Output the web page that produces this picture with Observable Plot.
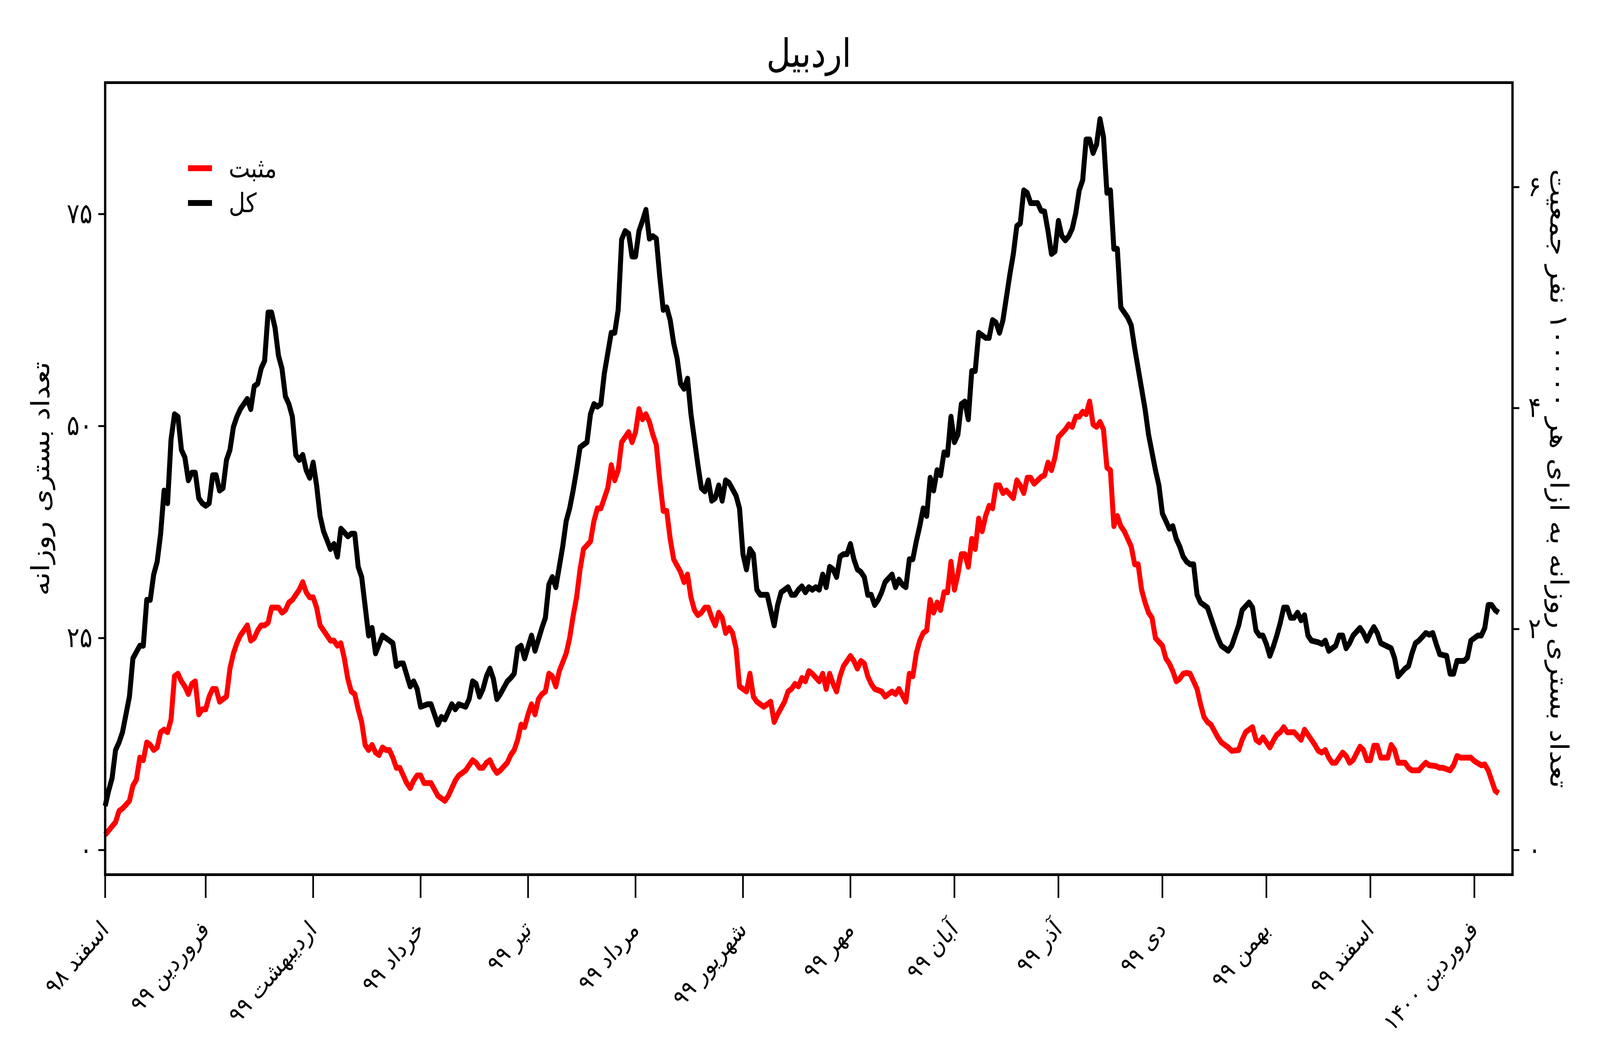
<!DOCTYPE html>
<html>
<head>
<meta charset="utf-8">
<script src="https://cdn.jsdelivr.net/npm/d3@7"></script>
<script src="https://cdn.jsdelivr.net/npm/@observablehq/plot@0.6"></script>
<style>
  html, body { margin: 0; padding: 0; background: #fff; width: 100%; height: 100%; overflow: hidden; }
  #wrap { position: absolute; left: 0; top: 0; width: 4800px; height: 2700px; overflow: hidden; transform-origin: 0 0; font-family: "DejaVu Sans", sans-serif; background: #fff; }
  #wrap svg { display: block; }
  #legend { position: absolute; left: 564px; top: 386px; font-family: "DejaVu Sans", sans-serif; font-size: 68px; color: #000; }
  #legend .row { display: flex; align-items: center; height: 89px; }
  #legend .sw { width: 72px; height: 15px; margin-right: 50px; }
</style>
</head>
<body>
<div id="wrap"></div>
<script>
// ---------- texts ----------
const cityName = "اردبیل";
const seriesNames = ["مثبت", "کل"];
const seriesColors = ["#ff0000", "#000000"];
const leftAxisLabel = "تعداد بستری روزانه";
const rightAxisLabel = "تعداد بستری روزانه به ازای هر ۱۰۰۰۰۰ نفر جمعیت";

// ---------- x axis: Persian month starts (days after 1 Esfand 1398 = 2020-02-20) ----------
const startDate = "2020-02-20";
const monthStartDays = [0, 29, 60, 91, 122, 153, 184, 215, 245, 275, 305, 335, 365, 395];
const monthLabels = ["اسفند ۹۸", "فروردین ۹۹", "اردیبهشت ۹۹", "خرداد ۹۹", "تیر ۹۹", "مرداد ۹۹", "شهریور ۹۹",
  "مهر ۹۹", "آبان ۹۹", "آذر ۹۹", "دی ۹۹", "بهمن ۹۹", "اسفند ۹۹", "فروردین ۱۴۰۰"];
const xEndDay = 406;

// ---------- y axes ----------
const yDomain = [-2.9, 90.5];
const leftTicks = [0, 25, 50, 75];
const leftTickLabels = ["۰", "۲۵", "۵۰", "۷۵"];
const rightTicks = [0, 2, 4, 6];
const rightTickLabels = ["۰", "۲", "۴", "۶"];
const populationIn100k = 13.03; // Ardabil population / 100000

// ---------- series: total hospitalised (کل) ----------
const totalDays = [0,1,2,3,4,5,7,8,10,11,12,13,14,15,16,17,18,19,20,21,22,23,24,25,26,27,28,29,30,31,32,33,34,35,36,37,38,39,41,42,43,44,45,46,47,48,49,50,51,52,53,54,55,56,57,58,59,60,61,62,63,65,66,67,
68,70,71,72,73,74,76,77,78,80,81,82,83,84,85,86,88,89,90,91,93,94,95,96,97,98,99,100,101,102,104,105,106,107,108,109,110,111,112,113,114,116,117,118,119,120,121,123,124,126,127,128,129,130,131,132,133,134,
135,136,137,138,139,140,141,142,143,144,146,147,148,149,150,151,152,153,154,155,156,157,158,159,160,161,162,163,164,165,166,167,168,169,170,171,172,173,174,175,176,177,178,179,180,182,183,184,185,186,187,188,189,190,191,192,193,194,195,197,198,199,200,201,202,
203,204,205,206,207,208,209,210,211,212,213,214,215,216,217,218,219,220,221,222,223,224,225,227,228,229,230,231,232,233,234,235,236,237,238,239,240,241,242,243,244,245,246,247,248,249,250,251,252,253,254,255,256,257,258,259,260,261,262,263,264,265,266,267,
269,270,271,272,273,274,275,276,277,278,279,280,281,282,283,284,285,286,287,288,289,290,291,292,293,295,296,297,298,299,300,301,303,304,305,307,308,309,310,311,312,313,314,315,316,318,319,321,322,324,325,327,328,330,331,332,333,334,335,336,337,
338,339,340,341,342,343,344,345,346,347,348,350,351,352,353,354,355,356,357,358,359,360,362,363,364,365,366,367,368,370,371,372,373,375,376,377,378,379,381,382,383,384,385,387,388,389,390,392,393,394,396,397,398,399,400,401,402];
const totalValues = [5.2,7.0,8.5,11.8,12.7,13.9,18.1,22.6,24.1,24.1,29.5,29.5,32.5,34.0,37.3,42.4,40.9,48.4,51.4,51.1,47.2,46.3,43.6,44.5,44.5,41.5,40.9,40.6,40.9,44.2,44.2,42.4,42.7,46.0,47.2,49.9,51.1,52.0,53.2,52.0,54.7,55.0,56.8,57.7,63.4,63.4,61.6,58.3,56.8,53.5,52.6,51.1,46.6,46.0,46.6,44.8,43.9,45.7,43.0,39.4,37.6,35.5,36.1,34.6,
37.9,37.0,37.3,37.3,33.4,32.2,25.3,26.2,23.2,25.3,25.0,24.7,24.4,21.7,22.0,22.0,19.3,19.9,19.0,16.9,17.2,17.2,16.0,14.8,15.7,15.4,16.3,17.2,16.6,17.2,16.9,17.8,19.9,19.6,18.1,19.0,20.5,21.4,20.2,17.8,18.4,19.9,20.3,20.8,23.8,24.1,22.6,25.3,23.5,26.2,27.4,31.3,32.2,31.0,33.4,35.8,38.8,40.3,
42.4,44.8,47.5,47.8,48.1,51.4,52.6,52.3,52.6,56.2,61.0,61.0,63.7,72.0,73.0,72.7,70.0,70.0,73.0,74.2,75.5,72.1,72.4,72.1,67.6,63.7,64.0,62.5,59.8,58.0,55.0,54.4,55.6,51.4,48.4,45.4,42.7,42.3,43.6,41.2,41.5,43.0,41.2,43.6,43.3,41.8,40.3,34.9,33.1,35.5,34.9,30.7,30.1,30.1,30.1,28.3,26.5,28.9,30.4,31.0,30.1,30.1,30.7,31.1,30.4,
31.0,30.7,31.0,30.7,32.5,31.0,33.4,33.1,32.2,34.6,34.9,34.9,36.1,34.3,33.1,32.8,32.2,30.1,30.1,28.9,29.5,30.4,31.6,32.5,31.0,31.9,31.3,31.0,34.3,34.3,36.4,38.2,40.3,39.4,43.9,42.4,44.8,44.2,46.9,46.6,51.1,48.1,49.0,52.6,52.9,50.8,56.5,56.5,61.0,60.7,60.4,60.4,62.5,62.2,61.0,62.5,65.2,67.9,70.3,73.6,73.9,77.8,77.5,76.3,
76.3,75.4,75.3,73.0,70.3,70.6,74.2,72.4,71.9,72.4,73.3,75.1,77.8,79.0,83.8,83.8,82.2,83.2,86.2,84.1,77.5,77.8,70.9,70.9,64.0,62.8,61.9,59.2,56.8,54.4,52.0,49.0,44.8,43.0,39.7,37.9,38.2,36.7,35.8,34.6,34.0,33.7,33.7,30.1,29.2,28.6,27.4,25.0,24.1,23.5,24.1,26.5,28.3,29.2,28.6,25.9,25.3,25.3,24.3,22.9,24.0,
25.3,26.8,28.6,28.6,27.4,27.4,28.0,27.1,27.7,25.3,24.7,24.5,24.3,24.7,23.5,23.8,24.1,25.3,25.3,23.8,24.4,25.3,26.2,25.6,24.7,25.6,26.3,25.6,24.4,24.0,23.8,22.6,20.5,21.4,21.7,23.2,24.4,24.7,25.6,25.4,25.6,24.3,23.1,22.9,20.8,20.8,22.3,22.3,22.7,24.7,25.3,25.3,26.2,28.9,28.9,28.3,28.0];

// ---------- series: positive (مثبت) ----------
const positiveDays = [0,1,2,3,4,5,7,8,9,10,11,12,13,14,15,16,17,18,19,20,21,22,23,24,25,26,27,28,29,30,31,32,33,35,36,37,38,39,41,42,43,44,45,46,47,48,50,51,52,53,54,56,57,58,59,60,61,62,64,65,66,67,
68,69,70,71,72,73,74,75,76,77,78,79,80,81,82,83,84,85,86,87,88,89,90,91,92,93,94,96,97,98,99,100,101,102,103,104,106,107,108,109,110,111,112,113,114,116,117,118,119,120,121,122,123,124,125,126,127,128,129,130,131,
133,134,135,136,137,138,140,141,142,143,144,145,146,147,148,149,151,152,153,154,155,156,157,158,159,160,161,162,163,164,166,167,168,169,170,171,172,173,174,175,176,177,178,179,180,181,182,183,185,186,187,188,190,192,193,194,196,197,198,199,200,201,202,
203,204,206,207,208,209,210,211,212,213,215,216,217,218,219,220,221,222,224,225,226,227,228,229,231,232,233,234,235,236,237,238,239,240,241,242,243,244,245,246,247,248,249,250,251,252,253,254,255,256,257,258,259,260,262,263,264,265,266,267,268,
270,271,272,273,274,275,277,278,279,280,281,282,283,284,285,286,287,288,289,290,291,292,293,294,295,296,297,298,299,300,301,302,303,305,306,307,308,309,310,311,312,313,315,316,317,318,319,321,322,324,325,327,328,329,331,332,333,334,335,336,337,
338,339,340,341,342,343,345,346,348,349,350,351,352,353,354,355,356,357,358,359,360,362,363,364,365,366,367,368,370,371,372,373,375,376,377,379,380,381,382,384,385,386,388,389,390,391,393,394,395,397,398,399,400,401,402];
const positiveValues = [1.8,2.3,2.8,3.3,4.6,4.9,5.8,7.6,8.3,10.9,10.6,12.7,12.4,11.8,12.1,13.9,14.2,13.9,15.4,20.5,20.8,19.9,19.3,18.4,19.6,19.9,16.0,16.6,16.6,18.1,19.0,19.0,17.5,18.1,21.4,23.2,24.4,25.3,26.5,24.7,25.0,25.9,26.5,26.5,26.8,28.6,28.6,28.0,28.3,29.2,29.5,30.7,31.6,30.4,29.8,29.8,28.6,26.5,25.3,24.7,24.7,24.1,
24.4,22.6,20.2,18.7,18.4,16.6,15.1,12.4,11.8,12.4,11.5,11.2,12.1,11.8,11.8,10.9,9.7,9.7,8.8,7.9,7.3,8.2,8.8,8.8,7.9,7.9,7.9,6.4,6.1,5.8,6.4,7.3,8.2,8.8,9.1,9.4,10.6,10.3,9.7,9.7,10.3,10.6,9.7,9.1,9.4,10.3,11.2,11.8,13.0,14.8,14.5,16.0,17.2,16.0,17.8,18.4,18.7,20.8,20.5,19.3,21.1,
23.2,25.0,27.6,29.8,33.1,35.5,36.4,38.8,40.3,40.3,41.5,42.7,45.4,43.6,44.8,48.1,49.3,48.1,49.3,52.0,50.8,51.4,50.5,49.0,47.8,43.6,40.0,40.0,36.7,34.3,32.8,31.6,32.5,29.8,28.3,27.7,28.0,28.6,28.6,27.4,26.5,28.0,27.4,25.6,26.2,25.6,23.8,19.3,18.7,20.8,18.1,17.5,16.9,17.5,15.1,16.0,17.5,18.7,19.0,19.6,19.3,20.3,19.9,
21.1,20.8,19.9,20.8,19.0,20.8,19.6,18.7,20.5,21.7,22.9,22.3,21.4,22.3,22.0,20.5,19.6,19.0,18.7,18.1,18.4,18.7,18.4,19.0,17.5,20.8,20.5,23.2,24.7,25.6,25.9,29.5,28.0,29.2,28.3,30.4,30.4,34.0,30.7,32.5,34.9,34.9,33.4,36.7,35.5,39.1,37.6,39.4,40.6,40.3,43.0,43.0,42.1,42.4,41.5,43.6,43.0,42.1,43.9,43.9,43.2,
44.0,44.2,45.7,44.8,46.3,48.7,49.6,50.2,49.9,51.1,51.1,51.7,51.4,52.9,50.2,49.9,50.5,49.6,45.1,44.8,38.2,39.4,38.2,37.6,36.7,35.8,33.7,33.7,30.7,29.2,28.0,27.4,25.0,24.1,22.6,22.0,21.1,19.9,20.2,20.8,20.9,20.8,19.0,17.2,15.7,15.1,14.8,13.3,12.7,12.1,11.7,11.8,13.0,13.9,14.5,13.0,12.7,13.3,12.7,12.1,12.9,
13.6,13.9,14.5,13.9,13.9,13.9,13.0,14.2,13.0,12.4,11.7,11.5,11.8,10.9,10.3,10.3,10.9,11.5,11.1,10.3,10.6,12.2,11.8,10.6,10.6,12.3,12.3,10.9,10.9,12.4,11.8,10.3,10.3,9.7,9.4,9.4,9.9,10.3,10.0,9.9,9.7,9.7,9.4,10.0,11.1,10.9,10.9,10.9,10.5,10.0,10.1,9.4,8.2,7.0,6.7];

// ---------- build ----------
const t0 = Date.parse(startDate + "T00:00:00Z");
const dayToDate = (d) => new Date(t0 + d * 86400000);
const positiveRows = positiveDays.map((d, i) => ({date: dayToDate(d), value: positiveValues[i]}));
const totalRows = totalDays.map((d, i) => ({date: dayToDate(d), value: totalValues[i]}));
const monthDates = monthStartDays.map(dayToDate);
const monthLabelByTime = new Map(monthDates.map((d, i) => [+d, monthLabels[i]]));
const rightTickPositions = rightTicks.map((t) => t * populationIn100k);

const chart = Plot.plot({
  width: 4800,
  height: 2700,
  marginTop: 211,
  marginRight: 263,
  marginBottom: 462,
  marginLeft: 315,
  style: {fontFamily: "'DejaVu Sans', sans-serif", color: "#000", background: "#fff", maxWidth: "none"},
  x: {type: "utc", domain: [dayToDate(0), dayToDate(xEndDay)], label: null},
  y: {domain: yDomain, label: null},
  marks: [
    Plot.line(positiveRows, {x: "date", y: "value", stroke: seriesColors[0], strokeWidth: 15, strokeLinejoin: "round", strokeLinecap: "butt"}),
    Plot.line(totalRows, {x: "date", y: "value", stroke: seriesColors[1], strokeWidth: 15, strokeLinejoin: "round", strokeLinecap: "butt"}),
    Plot.frame({stroke: "#000", strokeWidth: 7}),
    Plot.axisX({ticks: monthDates, tickFormat: (d) => monthLabelByTime.get(+d), tickSize: 60, tickPadding: 70,
      tickRotate: -45, textAnchor: "end", lineAnchor: "middle", fontSize: 62, strokeWidth: 5, label: null}),
    Plot.axisY({anchor: "left", ticks: leftTicks, tickFormat: (d) => leftTickLabels[leftTicks.indexOf(d)],
      tickSize: 20, tickPadding: 18, fontSize: 72, strokeWidth: 5, label: null}),
    Plot.axisY({anchor: "right", ticks: rightTickPositions, tickFormat: (d) => rightTickLabels[rightTickPositions.indexOf(d)],
      tickSize: 20, tickPadding: 27, fontSize: 72, strokeWidth: 5, label: null}),
    Plot.text([cityName], {text: (d) => d, frameAnchor: "top", lineAnchor: "bottom", dy: -41, fontSize: 100}),
    Plot.text([leftAxisLabel], {text: (d) => d, frameAnchor: "left", textAnchor: "middle", rotate: -90, dx: -192, fontSize: 75}),
    Plot.text([rightAxisLabel], {text: (d) => d, frameAnchor: "right", textAnchor: "middle", rotate: 90, dx: 138, fontSize: 75})
  ]
});

const wrap = document.getElementById("wrap");
wrap.appendChild(chart);

const legend = document.createElement("div");
legend.id = "legend";
seriesNames.forEach((name, i) => {
  const row = document.createElement("div");
  row.className = "row";
  const sw = document.createElement("div");
  sw.className = "sw";
  sw.style.background = seriesColors[i];
  const label = document.createElement("span");
  label.textContent = name;
  row.appendChild(sw);
  row.appendChild(label);
  legend.appendChild(row);
});
wrap.appendChild(legend);

// fill the viewport with the 4800x2700 design (the page's picture is taken of the viewport)
function fit() {
  const sx = window.innerWidth / 4800;
  const sy = window.innerHeight / 2700;
  wrap.style.transform = `scale(${sx}, ${sy})`;
}
fit();
window.addEventListener("resize", fit);
</script>
</body>
</html>
